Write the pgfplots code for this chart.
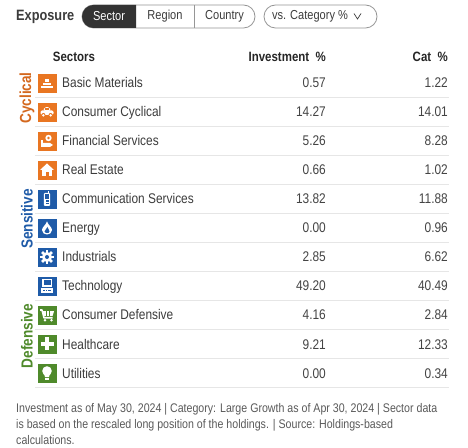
\documentclass[border=0pt]{standalone}
\usepackage{pgfplots}
\usepackage{pgfplotstable}
\pgfplotsset{compat=1.18}
\usepackage{fontspec}
\setmainfont{Liberation Sans}[FakeStretch=0.85]
\definecolor{cyc}{RGB}{233,118,34}
\definecolor{cycT}{RGB}{212,104,30}
\definecolor{sens}{RGB}{31,91,168}
\definecolor{def}{RGB}{79,138,43}
\definecolor{txt}{RGB}{60,60,60}
\definecolor{num}{RGB}{68,68,68}
\definecolor{sep}{RGB}{230,230,230}
\definecolor{foot}{RGB}{90,90,90}
\definecolor{btn}{RGB}{51,51,51}
\definecolor{btnline}{RGB}{150,150,150}

\pgfplotstableread[col sep=comma]{
name,Y,inv,cat
Basic Materials,364,0.57,1.22
Consumer Cyclical,335,14.27,14.01
Financial Services,306,5.26,8.28
Real Estate,277,0.66,1.02
Communication Services,248,13.82,11.88
Energy,219,0.00,0.96
Industrials,190,2.85,6.62
Technology,161,49.20,40.49
Consumer Defensive,132,4.16,2.84
Healthcare,103,9.21,12.33
Utilities,74,0.00,0.34
}\sectors

\begin{document}
\begin{tikzpicture}
\fill[white] (0,0) rectangle (468pt,447pt);
\begin{axis}[width=468pt,height=447pt,scale only axis,set layers=standard,
  xmin=0,xmax=468,ymin=0,ymax=447,hide axis,clip=false]

% separators
\pgfplotsinvokeforeach{349.5,320.5,291.5,262.5,233.5,204.5,175.5,146.5,117.5,88.5,59.5}{
  \draw[sep, line width=1pt] (axis cs:35,#1) -- (axis cs:449,#1);
}

% header
\node[anchor=base west, inner sep=0pt, font=\fontsize{15}{18}\selectfont\bfseries, text=txt] at (axis cs:16,426) {Exposure};
\draw[btnline, line width=0.8pt, rounded corners=11.5pt] (axis cs:82,419) rectangle (axis cs:255,442);
\fill[btn] (axis cs:136,442) [rounded corners=11.5pt] -- (axis cs:82,442) -- (axis cs:82,419) [sharp corners] -- (axis cs:136,419) -- cycle;
\draw[btnline, line width=0.8pt] (axis cs:194,419) -- (axis cs:194,442);
\node[inner sep=0pt, font=\fontsize{13}{16}\selectfont, text=white] at (axis cs:109,430.5) {Sector};
\node[inner sep=0pt, font=\fontsize{13}{16}\selectfont, text=txt] at (axis cs:165,430.5) {Region};
\node[inner sep=0pt, font=\fontsize{13}{16}\selectfont, text=txt] at (axis cs:224.5,430.5) {Country};
\draw[btnline, line width=0.8pt, rounded corners=11.5pt] (axis cs:264,419) rectangle (axis cs:377,442);
\node[inner sep=0pt, font=\fontsize{13}{16}\selectfont, text=txt] at (axis cs:310,430.5) {vs. Category \%};
\draw[txt, line width=0.7pt] (axis cs:354,433.5) -- (axis cs:357.5,428) -- (axis cs:361,433.5);

\node[anchor=base, inner sep=0pt, font=\fontsize{13.5}{16}\selectfont\bfseries, text=black!85] at (axis cs:74,385) {Sectors};
\node[anchor=base east, inner sep=0pt, font=\fontsize{13.5}{16}\selectfont\bfseries, text=black!85] at (axis cs:326,385) {Investment~~\%};
\node[anchor=base east, inner sep=0pt, font=\fontsize{13.5}{16}\selectfont\bfseries, text=black!85] at (axis cs:448,385) {Cat~~\%};

% group labels
\node[rotate=90, inner sep=0pt, font=\fontsize{16}{18}\selectfont\bfseries, text=cycT] at (axis cs:27,349) {Cyclical};
\node[rotate=90, inner sep=0pt, font=\fontsize{16}{18}\selectfont\bfseries, text=sens] at (axis cs:27,228) {Sensitive};
\node[rotate=90, inner sep=0pt, font=\fontsize{16}{18}\selectfont\bfseries, text=def] at (axis cs:27,111) {Defensive};

% icon squares
\addplot[only marks, mark=square*, mark size=9pt, color=cyc] coordinates {(47,364) (47,335) (47,306) (47,277)};
\addplot[only marks, mark=square*, mark size=9pt, color=sens] coordinates {(47,248) (47,219) (47,190) (47,161)};
\addplot[only marks, mark=square*, mark size=9pt, color=def] coordinates {(47,132) (47,103) (47,74)};

% labels and values
\addplot[only marks, mark=none, point meta=explicit symbolic, nodes near coords,
  every node near coord/.append style={anchor=base west, inner sep=0pt, font=\fontsize{14}{16}\selectfont, text=txt}]
  table[x expr=62, y expr=\thisrow{Y}-5, meta=name]{\sectors};
\addplot[only marks, mark=none, point meta=explicit symbolic, nodes near coords,
  every node near coord/.append style={anchor=base east, inner sep=0pt, font=\fontsize{14}{16}\selectfont, text=num}]
  table[x expr=326, y expr=\thisrow{Y}-5, meta=inv]{\sectors};
\addplot[only marks, mark=none, point meta=explicit symbolic, nodes near coords,
  every node near coord/.append style={anchor=base east, inner sep=0pt, font=\fontsize{14}{16}\selectfont, text=num}]
  table[x expr=448, y expr=\thisrow{Y}-5, meta=cat]{\sectors};

% icons
\begin{pgfonlayer}{axis foreground}
\begin{scope}[shift={(axis cs:47,364)}]
 \fill[white] (-1.75pt,1pt) rectangle (1.75pt,3.6pt);
 \fill[white] (-3.9pt,-2.2pt) rectangle (-0.4pt,0.4pt);
 \fill[white] (0.4pt,-2.2pt) rectangle (3.9pt,0.4pt);
 \fill[white] (-5.9pt,-5.4pt) rectangle (-2.3pt,-2.9pt);
 \fill[white] (-1.75pt,-5.4pt) rectangle (1.75pt,-2.9pt);
 \fill[white] (2.3pt,-5.4pt) rectangle (5.9pt,-2.9pt);
\end{scope}
\begin{scope}[shift={(axis cs:47,335)}]
 \fill[white, rounded corners=1.5pt] (-6.5pt,-3pt) rectangle (6.5pt,1.5pt);
 \fill[white, rounded corners=1.5pt] (-3.8pt,1pt) -- (-2.5pt,4.8pt) -- (2.5pt,4.8pt) -- (3.8pt,1pt) -- cycle;
 \fill[cyc] (-2.4pt,1.6pt) rectangle (-0.4pt,3.8pt);
 \fill[cyc] (0.4pt,1.6pt) rectangle (2.4pt,3.8pt);
 \fill[cyc] (-3.6pt,-3pt) circle (2pt);
 \fill[cyc] (3.6pt,-3pt) circle (2pt);
 \fill[white] (-3.6pt,-3.4pt) circle (1.3pt);
 \fill[white] (3.6pt,-3.4pt) circle (1.3pt);
\end{scope}
\begin{scope}[shift={(axis cs:47,306)}]
 \fill[white] (-6.5pt,-6pt) rectangle (-4pt,1pt);
 \fill[white] (-4pt,-2pt) -- (3pt,-2pt) -- (6pt,-4pt) -- (3pt,-6pt) -- (-4pt,-6pt) -- cycle;
 \fill[white] (1.5pt,3pt) circle (3.2pt);
 \fill[cyc] (1.5pt,3pt) circle (1.3pt);
\end{scope}
\begin{scope}[shift={(axis cs:47,277)}]
 \fill[white] (-7pt,0pt) -- (0pt,6.5pt) -- (7pt,0pt) -- cycle;
 \fill[white] (-5pt,-6.5pt) rectangle (5pt,0.5pt);
 \fill[cyc] (-1.5pt,-6.5pt) rectangle (1.5pt,-2pt);
\end{scope}
\begin{scope}[shift={(axis cs:47,248)}]
 \fill[white, rounded corners=1pt] (-3.2pt,-7pt) rectangle (3.2pt,6pt);
 \fill[white] (1.4pt,5pt) rectangle (2.4pt,7.5pt);
 \fill[sens] (-2.2pt,0pt) rectangle (2.2pt,4.8pt);
 \fill[sens] (-1.5pt,-3pt) rectangle (1.5pt,-1.5pt);
 \fill[sens] (-1.5pt,-5.5pt) rectangle (1.5pt,-4pt);
\end{scope}
\begin{scope}[shift={(axis cs:47,219)}]
 \fill[white] (0pt,6.5pt) .. controls (1pt,3pt) and (5pt,1pt) .. (5pt,-2pt) .. controls (5pt,-5pt) and (2.5pt,-6.5pt) .. (0pt,-6.5pt) .. controls (-2.5pt,-6.5pt) and (-5pt,-5pt) .. (-5pt,-2pt) .. controls (-5pt,1pt) and (-1pt,3pt) .. cycle;
 \fill[sens] (0.5pt,1pt) .. controls (1pt,-1pt) and (2.5pt,-2pt) .. (2.5pt,-3.5pt) .. controls (2.5pt,-5pt) and (1pt,-5pt) .. (0pt,-5pt) .. controls (-1pt,-5pt) and (-2.5pt,-4.5pt) .. (-2.5pt,-3.5pt) .. controls (-2.5pt,-2pt) and (0pt,-1pt) .. cycle;
\end{scope}
\begin{scope}[shift={(axis cs:47,190)}]
 \fill[white] (-1.4pt,-7pt) rectangle (1.4pt,7pt);
 \fill[white, rotate=45] (-1.4pt,-7pt) rectangle (1.4pt,7pt);
 \fill[white, rotate=90] (-1.4pt,-7pt) rectangle (1.4pt,7pt);
 \fill[white, rotate=135] (-1.4pt,-7pt) rectangle (1.4pt,7pt);
 \fill[white] (0pt,0pt) circle (5pt);
 \fill[sens] (0pt,0pt) circle (2pt);
\end{scope}
\begin{scope}[shift={(axis cs:47,161)}]
 \fill[white] (-5pt,-1pt) rectangle (5pt,7pt);
 \fill[sens] (-3.5pt,0.5pt) rectangle (3.5pt,5.5pt);
 \fill[white] (-6pt,-7pt) rectangle (6pt,-2.5pt);
 \fill[sens] (-4pt,-5.5pt) rectangle (-2.5pt,-4pt);
 \fill[sens] (-1.5pt,-5.5pt) rectangle (0pt,-4pt);
 \fill[sens] (1pt,-5.5pt) rectangle (4pt,-4pt);
\end{scope}
\begin{scope}[shift={(axis cs:47,132)}]
 \draw[white, line width=1.6pt, line join=round] (-7pt,5pt) -- (-5pt,5pt) -- (-3pt,-2.8pt) -- (5.5pt,-2.8pt);
 \fill[white] (-4.6pt,3.8pt) -- (7pt,3.8pt) -- (5.6pt,-1pt) -- (-3.4pt,-1pt) -- cycle;
 \draw[def, line width=0.6pt] (-0.5pt,3.8pt) -- (-0.5pt,-1pt) (2.5pt,3.8pt) -- (2.5pt,-1pt);
 \fill[white] (-2pt,-5.2pt) circle (1.4pt);
 \fill[white] (4.5pt,-5.2pt) circle (1.4pt);
\end{scope}
\begin{scope}[shift={(axis cs:47,103)}]
 \fill[white] (-2.3pt,-6.5pt) rectangle (2.3pt,6.5pt);
 \fill[white] (-6.5pt,-2.3pt) rectangle (6.5pt,2.3pt);
\end{scope}
\begin{scope}[shift={(axis cs:47,74)}]
 \fill[white] (0pt,2pt) circle (4.8pt);
 \fill[white] (-3.2pt,0pt) -- (3.2pt,0pt) -- (2pt,-4pt) -- (-2pt,-4pt) -- cycle;
 \fill[white] (-2pt,-6.5pt) rectangle (2pt,-4.6pt);
\end{scope}
\end{pgfonlayer}

% footer
\node[anchor=base west, inner sep=0pt, font=\fontsize{12.5}{16}\selectfont, text=foot] at (axis cs:16,35) {Investment as of May 30, 2024 | Category: Large Growth as of Apr 30, 2024 | Sector data};
\node[anchor=base west, inner sep=0pt, font=\fontsize{12.5}{16}\selectfont, text=foot] at (axis cs:16,18.5) {is based on the rescaled long position of the holdings. | Source: Holdings-based};
\node[anchor=base west, inner sep=0pt, font=\fontsize{12.5}{16}\selectfont, text=foot] at (axis cs:16,2.5) {calculations.};
\end{axis}
\pgfresetboundingbox
\useasboundingbox (0,0) rectangle (468pt,447pt);
\end{tikzpicture}
\end{document}
